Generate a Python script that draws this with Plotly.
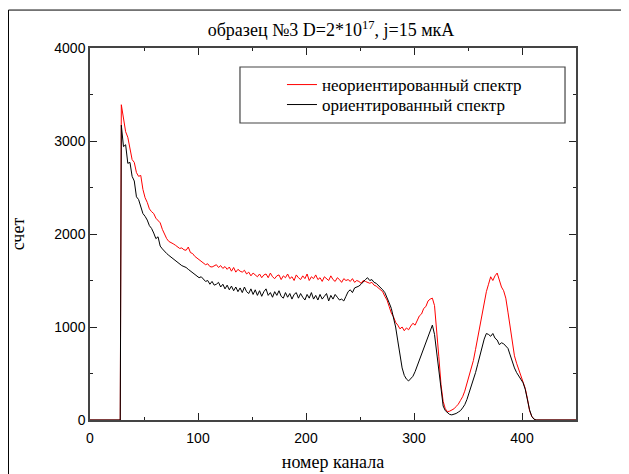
import plotly.graph_objects as go

# channel numbers of the sampled spectrum (every 2nd channel from 29 to 413)
start_channel = 29
step = 2

unoriented = [
    3390, 3250, 3100, 3040, 2900, 2800, 2770, 2660, 2620, 2630,   # 29-47
    2480, 2390, 2340, 2270, 2240, 2220, 2170, 2140, 2120, 2050,   # 49-67
    1990, 1950, 1920, 1910, 1895, 1880, 1860, 1845, 1850, 1830,   # 69-87
    1825, 1860, 1800, 1790, 1760, 1740, 1720, 1710, 1690, 1670,   # 89-107
    1680, 1650, 1645, 1660, 1670, 1640, 1660, 1630, 1650, 1620,   # 109-127
    1645, 1600, 1640, 1590, 1620, 1600, 1590, 1610, 1570, 1590,   # 129-147
    1550, 1580, 1560, 1540, 1570, 1530, 1560, 1570, 1530, 1580,   # 149-167
    1540, 1520, 1550, 1560, 1510, 1550, 1530, 1570, 1520, 1540,   # 169-187
    1500, 1560, 1530, 1510, 1550, 1520, 1570, 1500, 1540, 1520,   # 189-207
    1560, 1510, 1530, 1490, 1540, 1520, 1500, 1550, 1510, 1490,   # 209-227
    1530, 1510, 1480, 1520, 1500, 1510, 1490, 1520, 1480, 1500,   # 229-247
    1490, 1470, 1500, 1490, 1480, 1470, 1480, 1450, 1440, 1420,   # 249-267
    1400, 1380, 1330, 1290, 1220, 1150, 1110, 1050, 1020, 980,    # 269-287
    1000, 960, 990, 970, 1010, 1040, 1020, 1080, 1120, 1140,      # 289-307
    1200, 1220, 1280, 1300, 1310, 1230, 990, 680, 380, 200,       # 309-327
    120, 90, 95, 105, 120, 145, 170, 210, 250, 310,               # 329-347
    390, 460, 540, 640, 760, 890, 1020, 1160, 1270, 1380,         # 349-367
    1460, 1540, 1500, 1550, 1580, 1490, 1430, 1390, 1310, 1160,   # 369-387
    1000, 830, 690, 610, 540, 470, 400, 340, 230, 100,            # 389-407
    40, 10, 0,                                                    # 409-413
]

oriented = [
    3170, 2940, 2960, 2760, 2770, 2620, 2570, 2400, 2370, 2290,   # 29-47
    2220, 2190, 2150, 2090, 2060, 2010, 1950, 1970, 1870, 1840,   # 49-67
    1810, 1790, 1770, 1750, 1730, 1720, 1700, 1680, 1660, 1650,   # 69-87
    1640, 1620, 1600, 1580, 1560, 1550, 1530, 1540, 1510, 1490,   # 89-107
    1500, 1460, 1490, 1450, 1460, 1480, 1430, 1460, 1410, 1450,   # 109-127
    1400, 1440, 1390, 1430, 1380, 1420, 1370, 1430, 1380, 1360,   # 129-147
    1410, 1350, 1400, 1340, 1390, 1330, 1380, 1410, 1340, 1370,   # 149-167
    1320, 1380, 1340, 1390, 1330, 1310, 1370, 1320, 1360, 1300,   # 169-187
    1350, 1370, 1310, 1360, 1320, 1290, 1350, 1310, 1370, 1300,   # 189-207
    1340, 1290, 1350, 1300, 1330, 1360, 1280, 1340, 1300, 1350,   # 209-227
    1320, 1290, 1300, 1280, 1330, 1380, 1400, 1370, 1420, 1430,   # 229-247
    1440, 1460, 1490, 1510, 1530, 1500, 1510, 1480, 1470, 1450,   # 249-267
    1420, 1400, 1370, 1320, 1260, 1200, 1110, 1000, 850, 680,     # 269-287
    560, 480, 440, 420, 440, 470, 520, 580, 650, 720,             # 289-307
    780, 840, 900, 960, 1020, 920, 720, 500, 290, 150,            # 309-327
    100, 75, 60, 55, 60, 70, 85, 100, 130, 165,                   # 329-347
    220, 290, 360, 430, 510, 600, 690, 790, 870, 930,             # 349-367
    920, 900, 930, 880, 860, 810, 830, 820, 790, 770,             # 369-387
    700, 620, 560, 510, 470, 440, 400, 330, 220, 110,             # 389-407
    40, 10, 0,                                                    # 409-413
]

# zero counts before the threshold and after the last peak
lead_channels = [0, 28]
tail_channels = [450]

channels = list(range(start_channel, start_channel + step * len(unoriented), step))
x_all = lead_channels + channels + tail_channels
red_all = [0, 0] + unoriented + [0]
black_all = [0, 0] + oriented + [0]

title_text = "образец №3 D=2*10<sup>17</sup>, j=15 мкА"
x_title = "номер канала"
y_title = "счет"
name_red = "неориентированный спектр"
name_black = "ориентированный спектр"

x_ticks = [0, 100, 200, 300, 400]
y_ticks = [0, 1000, 2000, 3000, 4000]

serif = "Liberation Serif, Times New Roman, serif"
sans = "Liberation Sans, Arial, sans-serif"

fig = go.Figure()
fig.add_trace(go.Scatter(x=x_all, y=red_all, mode="lines", name=name_red,
                         legend="legend",
                         line=dict(color="#ff0000", width=1)))
fig.add_trace(go.Scatter(x=x_all, y=black_all, mode="lines", name=name_black,
                         legend="legend2",
                         line=dict(color="#000000", width=1)))

axis_common = dict(
    showline=True, linecolor="#444444", linewidth=1.5, mirror="allticks",
    ticks="inside", ticklen=7, tickwidth=1.2, tickcolor="#222222",
    showgrid=False, zeroline=False, automargin=False,
    tickfont=dict(family=sans, size=14, color="#000000"),
)

fig.update_xaxes(range=[0, 450], tickvals=x_ticks, ticklabelstandoff=4,
                 minor=dict(dtick=50, tick0=0, ticks="inside", ticklen=3.5,
                            tickwidth=1.2, tickcolor="#222222", showgrid=False),
                 title=dict(text=x_title, font=dict(family=serif, size=18, color="#000000"),
                            standoff=11),
                 **axis_common)
fig.update_yaxes(range=[0, 4000], tickvals=y_ticks,
                 minor=dict(dtick=500, tick0=0, ticks="inside", ticklen=3.5,
                            tickwidth=1.2, tickcolor="#222222", showgrid=False),
                 title=dict(text=y_title, font=dict(family=serif, size=18, color="#000000"),
                            standoff=26),
                 **axis_common)

legend_style = dict(xanchor="left", yanchor="middle", bgcolor="rgba(0,0,0,0)",
                    borderwidth=0, font=dict(family=serif, size=17, color="#000000"))

# page is rendered with an 8px body margin, so the figure is 621x466
fig.update_layout(
    width=621, height=466,
    margin=dict(l=82, r=53, t=40, b=54),
    paper_bgcolor="white", plot_bgcolor="white",
    title=dict(text=title_text, x=323 / 621, xref="container", xanchor="center",
               y=1 - 22 / 466, yref="container", yanchor="middle",
               font=dict(family=serif, size=18, color="#000000")),
    showlegend=True,
    legend=dict(x=0.395, y=0.9005, **legend_style),
    legend2=dict(x=0.395, y=0.8468, **legend_style),
    shapes=[
        # legend frame
        dict(type="rect", xref="paper", yref="paper", x0=0.3086, x1=0.9774,
             y0=0.7984, y1=0.9489, line=dict(color="#444444", width=1.2),
             fillcolor="rgba(0,0,0,0)", layer="above"),
        # outer frame fragments
        dict(type="line", xref="paper", yref="paper", x0=-0.1677, x1=1.12,
             y0=1.102, y1=1.102, line=dict(color="#000000", width=1)),
        dict(type="line", xref="paper", yref="paper", x0=-0.1677, x1=-0.1677,
             y0=1.102, y1=-0.16, line=dict(color="#000000", width=1)),
    ],
)

fig.write_html("out.html")
